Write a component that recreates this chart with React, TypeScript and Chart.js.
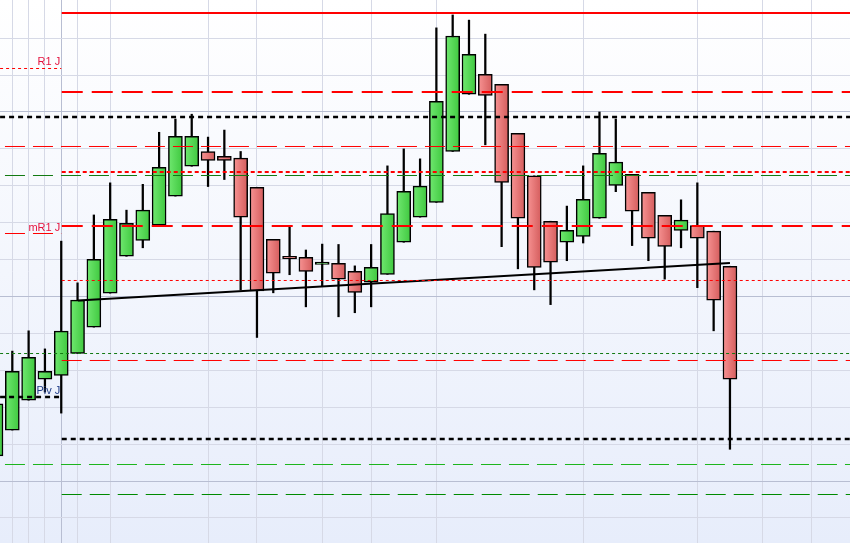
import React, { useEffect, useRef } from "react";
import { Chart, registerables } from "chart.js";
Chart.register(...registerables);

// Candles (index 0..45), prices
const OPEN = [1006.8, 1013.8, 1021.9, 1027.6, 1028.6, 1034.6, 1041.7, 1050.9, 1060.9, 1065.2, 1069.3, 1077.2, 1085.3, 1089.3, 1088.0, 1087.5, 1079.6, 1065.5, 1060.9, 1060.6, 1058.7, 1059.0, 1056.8, 1053.9, 1056.0, 1064.7, 1071.5, 1075.5, 1089.3, 1104.8, 1110.2, 1107.5, 1094.2, 1082.7, 1070.4, 1064.7, 1066.3, 1071.2, 1080.1, 1083.1, 1078.2, 1072.0, 1067.9, 1069.2, 1067.7, 1058.2];
const CLOSE = [1020.9, 1029.7, 1033.5, 1029.7, 1040.6, 1049.0, 1060.1, 1070.9, 1069.8, 1073.4, 1085.0, 1093.4, 1093.4, 1086.9, 1086.9, 1071.5, 1051.5, 1056.3, 1060.2, 1056.8, 1059.3, 1054.7, 1051.1, 1057.9, 1072.5, 1078.5, 1079.9, 1102.9, 1120.6, 1115.6, 1104.5, 1080.9, 1071.2, 1057.9, 1059.3, 1067.9, 1076.3, 1088.8, 1086.4, 1073.1, 1065.8, 1063.6, 1070.7, 1065.8, 1049.0, 1027.6];
const HIGH = [1022.8, 1035.2, 1040.7, 1035.8, 1065.0, 1053.7, 1072.1, 1080.8, 1073.4, 1080.4, 1094.5, 1098.1, 1099.4, 1093.2, 1095.1, 1089.3, 1079.6, 1065.5, 1069.0, 1062.6, 1064.2, 1064.1, 1058.3, 1064.1, 1085.4, 1090.0, 1087.3, 1122.8, 1126.3, 1124.9, 1121.1, 1107.5, 1094.2, 1082.7, 1070.4, 1074.5, 1085.4, 1100.0, 1098.1, 1083.1, 1078.2, 1072.0, 1076.2, 1080.8, 1067.7, 1058.2];
const LOW = [1005.0, 1013.8, 1021.9, 1024.1, 1018.4, 1034.6, 1041.7, 1050.9, 1060.9, 1063.2, 1069.3, 1077.2, 1085.3, 1079.8, 1081.7, 1051.8, 1038.9, 1051.0, 1055.9, 1047.2, 1052.8, 1044.5, 1045.6, 1047.2, 1056.0, 1064.7, 1071.5, 1075.5, 1089.3, 1104.8, 1091.1, 1063.5, 1057.5, 1051.8, 1047.8, 1059.7, 1064.5, 1071.2, 1078.4, 1063.8, 1059.7, 1054.7, 1063.2, 1052.4, 1040.7, 1008.6];

// Horizontal levels: price, start index, end index, style name
const LEVEL_PRICE = [1126.83, 1111.79, 1105.42, 1098.64, 1090.65, 1083.74, 1082.79, 1067.07, 1069.10, 1054.34, 1034.55, 1032.66, 1022.76, 1011.38, 1004.47, 996.34];
const LEVEL_FROM = [4.03, 0.25, 4.03, 0.25, 0.55, 4.03, 0.55, 0.55, 4.03, 4.03, 0.25, 4.03, 0.25, 4.03, 0.55, 4.03];
const LEVEL_TO = [52.4, 4.0, 52.4, 52.4, 52.4, 52.4, 52.4, 4.0, 52.4, 52.4, 52.4, 52.4, 4.0, 52.4, 52.4, 52.4];
const LEVEL_STYLE = ["solidRed", "dotRedThin", "longRed", "dotBlack", "dashRedThin", "dotRedThick", "dashGreen", "dashRedThin", "longRed", "dotRedThin", "dotGreen", "dashRedThin", "dotBlack", "dotBlack", "dashGreenLight", "dashGreenDark"];

// Trend line
const TREND_X = [5.03, 45];
const TREND_Y = [1048.9, 1059.1];

// Level labels
const LABEL_TEXT = ["R1 J", "mR1 J", "Piv J"];
const LABEL_PRICE = [1111.79, 1067.07, 1022.76];
const LABEL_KIND = ["red", "red", "blue"];

// Vertical grid positions (candle index)
const X_GRID = [1, 2, 3, 4, 5, 7, 13, 16, 20, 23, 27, 36, 43, 47, 50];
const X_MAJOR = 4;

const X_MIN = 0.2452;
const X_MAX = 52.36;
const Y_MIN = 983.2;
const Y_MAX = 1130.35;

const STYLES: Record<string, { color: string; width: number; dash: number[] }> = {
  solidRed: { color: "#ff0000", width: 2, dash: [] },
  longRed: { color: "#ff0000", width: 2, dash: [21, 9] },
  dotRedThin: { color: "#ff0000", width: 1, dash: [3, 3] },
  dotRedThick: { color: "#ff0000", width: 2, dash: [4, 3] },
  dashRedThin: { color: "#ff0000", width: 1, dash: [20, 8] },
  dotBlack: { color: "#000000", width: 2.5, dash: [5, 4] },
  dashGreen: { color: "#127a12", width: 1, dash: [20, 8] },
  dotGreen: { color: "#127a12", width: 1, dash: [3, 3] },
  dashGreenLight: { color: "#1db51d", width: 1, dash: [20, 8] },
  dashGreenDark: { color: "#008a00", width: 1, dash: [20, 8] },
};

export default function App() {
  const ref = useRef<HTMLCanvasElement>(null);
  useEffect(() => {
    const canvas = ref.current!;
    const isUp = (i: number) => CLOSE[i] >= OPEN[i];
    const bodyFill = (ctx: any) => {
      const i = ctx.dataIndex;
      const up = isUp(i);
      const solid = up ? "#55dd55" : "#e77777";
      const chart = ctx.chart;
      const xs = chart && chart.scales && chart.scales.x;
      if (!xs || ctx.type !== "data" || typeof i !== "number") return solid;
      const px = xs.getPixelForValue(i);
      if (!isFinite(px)) return solid;
      const g = chart.ctx.createLinearGradient(px - 7, 0, px + 7, 0);
      if (up) {
        g.addColorStop(0, "#70e870");
        g.addColorStop(1, "#3fc83f");
      } else {
        g.addColorStop(0, "#f79393");
        g.addColorStop(1, "#d45c5c");
      }
      return g;
    };

    const levelSets = LEVEL_PRICE.map((p, k) => {
      const s = STYLES[LEVEL_STYLE[k]];
      return {
        type: "line" as const,
        data: [
          { x: LEVEL_FROM[k], y: p },
          { x: LEVEL_TO[k], y: p },
        ],
        borderColor: s.color,
        borderWidth: s.width,
        borderDash: s.dash,
        pointRadius: 0,
        fill: false,
        tension: 0,
        order: 0,
      };
    });

    const bgPlugin = {
      id: "bg",
      beforeDraw(chart: any) {
        const { ctx, width, height } = chart;
        const g = ctx.createLinearGradient(0, 0, 0, height);
        g.addColorStop(0, "#ffffff");
        g.addColorStop(1, "#e7edfb");
        ctx.save();
        ctx.fillStyle = g;
        ctx.fillRect(0, 0, width, height);
        ctx.restore();
      },
    };

    const labelPlugin = {
      id: "lbl",
      afterDatasetsDraw(chart: any) {
        const { ctx } = chart;
        const xs = chart.scales.x;
        const ys = chart.scales.y;
        ctx.save();
        ctx.font = "11px 'Liberation Sans', Arial, sans-serif";
        ctx.textAlign = "right";
        ctx.textBaseline = "alphabetic";
        LABEL_TEXT.forEach((t, k) => {
          ctx.fillStyle = LABEL_KIND[k] === "red" ? "#e5133f" : "#1d3a86";
          ctx.fillText(t, xs.getPixelForValue(4) - 1, ys.getPixelForValue(LABEL_PRICE[k]) - 3);
        });
        ctx.restore();
      },
    };

    const chart = new Chart(canvas, {
      type: "bar",
      data: {
        datasets: [
          ...levelSets,
          {
            type: "line" as const,
            data: TREND_X.map((x, k) => ({ x, y: TREND_Y[k] })),
            borderColor: "#000000",
            borderWidth: 2,
            pointRadius: 0,
            fill: false,
            order: 0,
          },
          {
            type: "bar" as const,
            data: OPEN.map((o, i) => ({ x: i, y: [o, CLOSE[i]] })) as any,
            backgroundColor: bodyFill as any,
            borderColor: "#000000",
            borderWidth: 1.5,
            borderSkipped: false,
            barThickness: 14,
            grouped: false,
            order: 1,
          },
          {
            type: "bar" as const,
            data: LOW.map((l, i) => ({ x: i, y: [l, HIGH[i]] })) as any,
            backgroundColor: "#000000",
            borderWidth: 0,
            barThickness: 1.6,
            grouped: false,
            order: 2,
          },
        ] as any,
      },
      options: {
        animation: false,
        responsive: false,
        devicePixelRatio: 1,
        layout: { padding: 0 },
        plugins: { legend: { display: false }, tooltip: { enabled: false } },
        scales: {
          x: {
            type: "linear",
            min: X_MIN,
            max: X_MAX,
            offset: false,
            ticks: { display: false },
            border: { display: false },
            grid: {
              offset: false,
              drawTicks: false,
              lineWidth: 1,
              color: (c: any) => (c.tick && c.tick.value === X_MAJOR ? "#b8bed2" : "#d6d9e6"),
            },
            afterBuildTicks: (axis: any) => {
              axis.ticks = X_GRID.map((v) => ({ value: v }));
            },
          },
          y: {
            type: "linear",
            min: Y_MIN,
            max: Y_MAX,
            beginAtZero: false,
            ticks: { display: false, stepSize: 10 },
            border: { display: false },
            grid: {
              drawTicks: false,
              lineWidth: 1,
              color: (c: any) => {
                const v = c.tick ? c.tick.value : 0;
                if (Math.abs(v - Math.round(v / 10) * 10) > 0.01) return "rgba(0,0,0,0)";
                return Math.abs(v - Math.round(v / 50) * 50) < 0.01 ? "#b8bed2" : "#d6d9e6";
              },
            },
          },
        },
      } as any,
      plugins: [bgPlugin, labelPlugin],
    });
    return () => chart.destroy();
  }, []);

  return (
    <div style={{ position: "absolute", left: 0, top: 0, width: 850, height: 543 }}>
      <canvas ref={ref} width={850} height={543} style={{ display: "block" }} />
    </div>
  );
}
